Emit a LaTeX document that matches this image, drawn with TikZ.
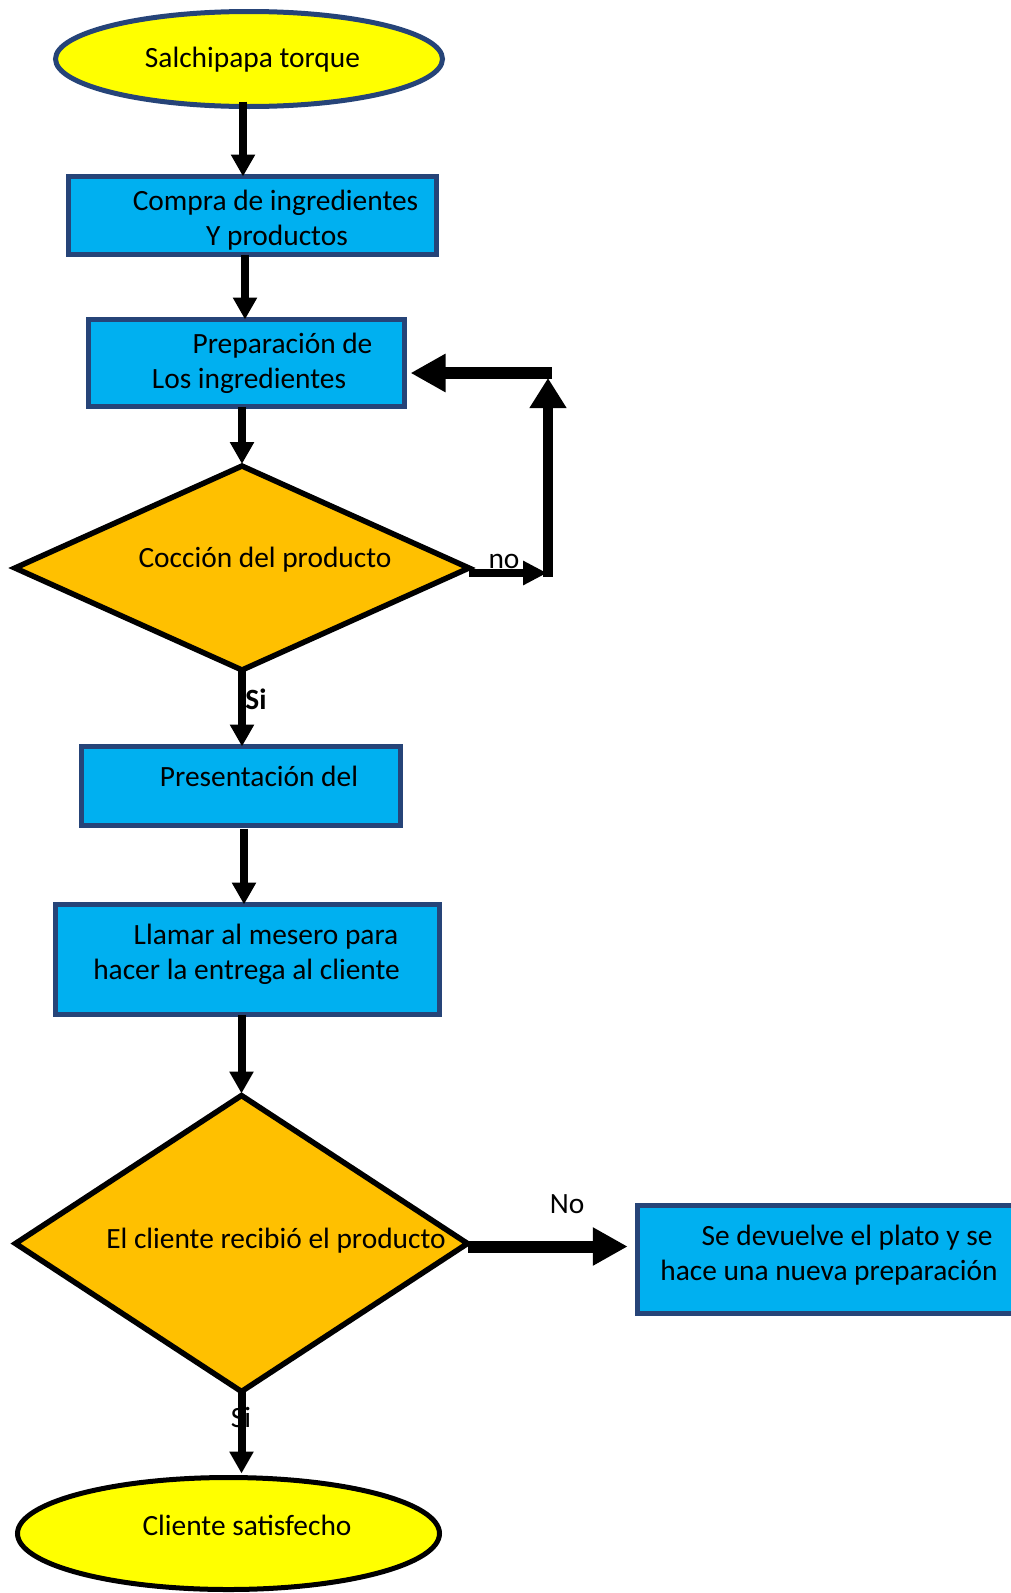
\documentclass[tikz,border=0pt]{standalone}
\usepackage{fontspec}
\setmainfont{Carlito}
\usetikzlibrary{arrows.meta,shapes.geometric,calc}
\definecolor{boxblue}{HTML}{00B0F0}
\definecolor{edgeblue}{HTML}{264478}
\definecolor{dgold}{HTML}{FFC000}
\definecolor{tyellow}{HTML}{FFFF00}
\begin{document}
\begin{tikzpicture}[x=1pt,y=-1pt,
  every node/.style={inner sep=0pt, outer sep=0pt},
  procbox/.style={rectangle, draw=edgeblue, line width=5pt, fill=boxblue},
  decis/.style={diamond, draw=black, line width=5.5pt, fill=dgold},
  term/.style={ellipse, line width=5pt, fill=tyellow},
  lbl/.style={anchor=base, font=\fontsize{29.4}{35}\selectfont},
  flow/.style={line width=8pt, -{Triangle[length=22pt,width=23pt]}},
  bigflow/.style={line width=12pt, -{Triangle[length=35pt,width=36pt]}},
]
\clip (0,0) rectangle (1011,1593);
\fill[white] (0,0) rectangle (1011,1593);

% shapes
\node[term, draw=edgeblue, minimum width=387pt, minimum height=95pt] (start) at (249,59) {};
\node[procbox, minimum width=368pt, minimum height=78pt] (b1) at (252.5,215.5) {};
\node[procbox, minimum width=316pt, minimum height=87pt] (b2) at (246.5,363) {};
\node[decis, minimum width=454pt, minimum height=204pt] (d1) at (242,568) {};
\node[procbox, minimum width=319pt, minimum height=79pt] (b3) at (241,786) {};
\node[procbox, minimum width=384pt, minimum height=110pt] (b4) at (247.5,959.5) {};
\node[decis, minimum width=452pt, minimum height=296pt] (d2) at (241.5,1243.5) {};
\node[procbox, minimum width=402pt, minimum height=108pt] (b5) at (838.75,1259.5) {};
\node[term, draw=black, minimum width=422pt, minimum height=112pt] (e2) at (228.5,1533.5) {};

% texts
\node[lbl] (t0) at (252.5,67) {Salchipapa torque};
\node[lbl] (t1a) at (275.5,210) {Compra de ingredientes};
\node[lbl] (t1b) at (277,245) {Y productos};
\node[lbl] (t2a) at (282.5,353) {Preparación de};
\node[lbl] (t2b) at (249,388) {Los ingredientes};
\node[lbl] (t3) at (265,567) {Cocción del producto};
\node[lbl] (tno) at (504,568) {no};
\node[lbl] (tsi) at (256,709) {\bfseries Si};
\node[lbl] (t4) at (259,786) {Presentación del};
\node[lbl] (t5a) at (266,944) {Llamar al mesero para};
\node[lbl] (t5b) at (246.5,979) {hacer la entrega al cliente};
\node[lbl] (t6) at (276,1248) {El cliente recibió el producto};
\node[lbl] (tNo) at (567,1213) {No};
\node[lbl] (t7a) at (847,1245) {Se devuelve el plato y se};
\node[lbl] (t7b) at (829,1280) {hace una nueva preparación};
\node[lbl] (tsi2) at (241,1427) {Si};
\node[lbl] (t8) at (247,1535) {Cliente satisfecho};

% connectors
\coordinate (c1) at (548,573);
\coordinate (c2) at (548,373);
\draw[flow] ([xshift=-6pt,yshift=5pt]start.south) -- ([xshift=-6pt]start.south |- b1.north);
\draw[flow] ([xshift=-7.5pt]b1.south) -- ([xshift=-7.5pt]b1.south |- b2.north);
\draw[flow] (d1.north |- b2.south) -- ([yshift=2pt]d1.north);
\draw[line width=8pt, -{Triangle[length=24pt,width=23pt]}] ([yshift=-5pt]d1.east) -- ($(c1)+(-1,0)$);
\draw[line width=10pt, -{Triangle[length=30pt,width=35pt]}] ($(c1)+(0,4)$) -- ($(c2)+(0,5)$);
\draw[bigflow] ($(c2)+(4,0)$) -- ($(c2 -| b2.east)+(6,0)$);
\draw[flow] (d1.south) -- (d1.south |- b3.north);
\draw[flow] ([xshift=3pt,yshift=-3pt]b3.south) -- ([xshift=3pt]b3.south |- b4.north);
\draw[flow] (d2.north |- b4.south) -- ([yshift=2pt]d2.north);
\draw[bigflow] ([yshift=-3pt]d2.east) -- ($(d2.east -| b5.west)+(-10,3)$);
\draw[flow] (d2.south) -- ([yshift=4pt]d2.south |- e2.north);
\end{tikzpicture}
\end{document}
